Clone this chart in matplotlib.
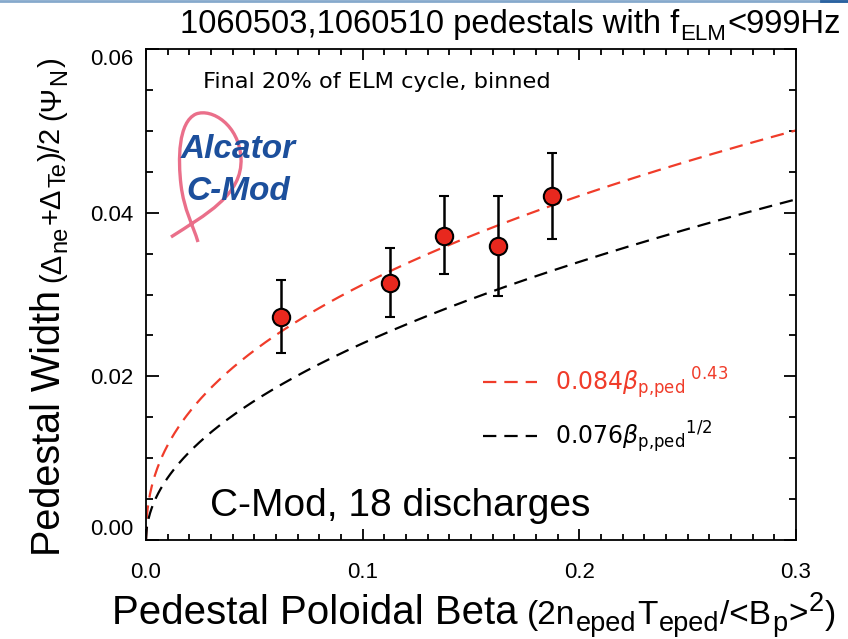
import numpy as np
import matplotlib
matplotlib.use('Agg')
import matplotlib.pyplot as plt
from matplotlib.ticker import MultipleLocator
from matplotlib.path import Path
from matplotlib.patches import PathPatch
from matplotlib.lines import Line2D
from matplotlib import font_manager

# ---------------- data ----------------
beta = [0.0625, 0.1125, 0.1375, 0.1625, 0.1875]
width = [0.0273, 0.0314, 0.0372, 0.0359, 0.0420]
err_lo = [0.0229, 0.0273, 0.0325, 0.0298, 0.0368]
err_hi = [0.0318, 0.0357, 0.0420, 0.0420, 0.0473]

fit_red_coef, fit_red_exp = 0.084, 0.43
fit_black_coef, fit_black_exp = 0.076, 0.5

xticks = [0.0, 0.1, 0.2, 0.3]
xtick_labels = ['0.0', '0.1', '0.2', '0.3']
yticks = [0.00, 0.02, 0.04, 0.06]
ytick_labels = ['0.00', '0.02', '0.04', '0.06']

# ---------------- style ----------------
names = {f.name for f in font_manager.fontManager.ttflist}
has_narrow = 'Liberation Sans Narrow' in names
narrow = 'Liberation Sans Narrow' if has_narrow else 'Liberation Sans'
tick_size = 19 if has_narrow else 16

plt.rcParams['font.family'] = ['Liberation Sans', 'DejaVu Sans']
plt.rcParams['mathtext.fontset'] = 'custom'
plt.rcParams['mathtext.rm'] = 'Liberation Sans'
plt.rcParams['mathtext.it'] = 'Liberation Sans:italic'
plt.rcParams['mathtext.bf'] = 'Liberation Sans:bold'

W, H = 848, 639
fig = plt.figure(figsize=(W / 100, H / 100), dpi=100)
ax = fig.add_axes([146 / W, 1 - 540 / H, 650 / W, 491 / H])

red_line = '#f03c2a'
red_fill = '#e8281e'

xs = np.linspace(0, 0.3, 800)
l1, = ax.plot(xs, fit_red_coef * xs ** fit_red_exp, color=red_line, lw=1.6,
              dashes=(6, 3.6))
l2, = ax.plot(xs, fit_black_coef * xs ** fit_black_exp, color='black', lw=1.6,
              dashes=(6, 3.6))

w = np.array(width)
yerr = [w - np.array(err_lo), np.array(err_hi) - w]
ax.errorbar(beta, width, yerr=yerr, fmt='o', ms=12.5, mfc=red_fill, mec='black',
            mew=1.5, ecolor='black', elinewidth=1.8, capsize=3.5, capthick=1.8,
            zorder=5)

ax.set_xlim(0, 0.3)
ax.set_ylim(0, 0.06)
ax.set_xticks(xticks)
ax.set_xticklabels(xtick_labels, family=narrow)
ax.set_yticks(yticks)
ax.set_yticklabels(ytick_labels, family=narrow)
ax.xaxis.set_minor_locator(MultipleLocator(0.01))
ax.yaxis.set_minor_locator(MultipleLocator(0.005))
ax.tick_params(which='both', direction='in', top=True, right=True, width=1.3,
               colors='black')
ax.tick_params(axis='x', which='major', length=8, labelsize=tick_size, pad=16)
ax.tick_params(axis='x', which='minor', length=4)
ax.tick_params(axis='y', which='major', length=9, labelsize=tick_size, pad=9)
ax.tick_params(axis='y', which='minor', length=5)
for s in ax.spines.values():
    s.set_linewidth(1.3)
ylabs = ax.get_yticklabels()
ylabs[0].set_va('bottom')
ylabs[-1].set_va('top')

# legend
leg = ax.legend([l1, l2],
                [r'$0.084{\beta_{\mathrm{p{,}ped}}}^{\ 0.43}$',
                 r'$0.076{\beta_{\mathrm{p{,}ped}}}^{1/2}$'],
                loc='center left', bbox_to_anchor=(483 / W, 1 - 410 / H),
                bbox_transform=fig.transFigure, frameon=False, borderpad=0,
                borderaxespad=0, handlelength=2.3, handletextpad=0.75,
                labelspacing=0.75, prop={'family': 'DejaVu Sans', 'size': 17})
for t, c in zip(leg.get_texts(), [red_line, 'black']):
    t.set_color(c)
    t.set_math_fontfamily('dejavusans')

# annotations
fig.text(203 / W, 1 - 88 / H, 'Final 20% of ELM cycle, binned',
         family='DejaVu Sans', fontsize=16.2, ha='left', va='baseline')
fig.text(210 / W, 1 - 516 / H, 'C-Mod, 18 discharges', fontsize=28,
         ha='left', va='baseline')

# logo
def fp(x, y):
    return (x / W, 1 - y / H)

verts = [fp(171, 237), fp(205, 215), fp(243, 195), fp(241, 158),
         fp(239, 125), fp(212, 108), fp(196, 114),
         fp(178, 122), fp(178, 160), fp(181, 185),
         fp(184, 210), fp(193, 225), fp(198, 242)]
codes = [Path.MOVETO] + [Path.CURVE4] * 12
fig.add_artist(PathPatch(Path(verts, codes), transform=fig.transFigure,
                         fill=False, edgecolor='#ea6f8a', lw=2.4, zorder=3))
fig.text(181 / W, 1 - 158 / H, 'Alcator', color='#1c4f9c', fontsize=24,
         style='italic', weight='bold', ha='left', va='baseline', zorder=4)
fig.text(186 / W, 1 - 200 / H, 'C-Mod', color='#1c4f9c', fontsize=24,
         style='italic', weight='bold', ha='left', va='baseline', zorder=4)

# top slide border
fig.add_artist(Line2D([0, 1], [1 - 1 / H, 1 - 1 / H], transform=fig.transFigure,
                      color='#86a9cc', lw=2))
fig.add_artist(Line2D([0.968, 1], [1 - 1 / H, 1 - 1 / H], transform=fig.transFigure,
                      color='#2a62a0', lw=2))

# texts made of pieces of different sizes (IDL-style sub/superscripts)
fig.canvas.draw()
r = fig.canvas.get_renderer()


def chain(pieces, x0, y0, rot=False):
    """x0, y0 in pixels from the bottom-left.
    pieces: (text, size, shift_px, gap_before_px)."""
    pos = x0 if not rot else y0
    for s, size, dy, gap in pieces:
        pos += gap
        if not rot:
            t = fig.text(pos / W, (y0 + dy) / H, s, fontsize=size, ha='left',
                         va='baseline')
            pos = t.get_window_extent(r).x1
        else:
            t = fig.text((x0 - dy) / W, pos / H, s, fontsize=size, rotation=90,
                         rotation_mode='anchor', ha='left', va='baseline')
            pos = t.get_window_extent(r).y1
    return pos


# title
chain([('1060503,1060510 pedestals with f', 23.6, 0, 0), ('ELM', 16, -7, 1),
       ('<999Hz', 23.6, 0, 1)], 180, H - 33)

# x label
end = chain([('Pedestal Poloidal Beta', 29, 0, 0)], 112, H - 624)
S, SS = 24, 19.5
chain([('(2n', S, 0, 0), ('eped', SS, -7, 1), ('T', S, 0, 1), ('eped', SS, -7, 1),
       ('/<B', S, 0, 1), ('p', SS, -7, 1), ('>', S, 0, 1), ('2', SS, 13, 1),
       (')', S, 0, 1)], end + 9, H - 624)

# y label
end = chain([('Pedestal Width', 28.5, 0, 0)], 60, H - 556, rot=True)
S, SS = 21, 17
chain([('(\u0394', S, 0, 0), ('ne', SS, -6, 1), ('+\u0394', S, 0, 1),
       ('Te', SS, -6, 1), (')/2', S, 0, 1), ('(\u03a8', S, 0, 7),
       ('N', SS, -6, 1), (')', S, 0, 1)], 60, end + 8, rot=True)

fig.savefig('out.png', dpi=100)
